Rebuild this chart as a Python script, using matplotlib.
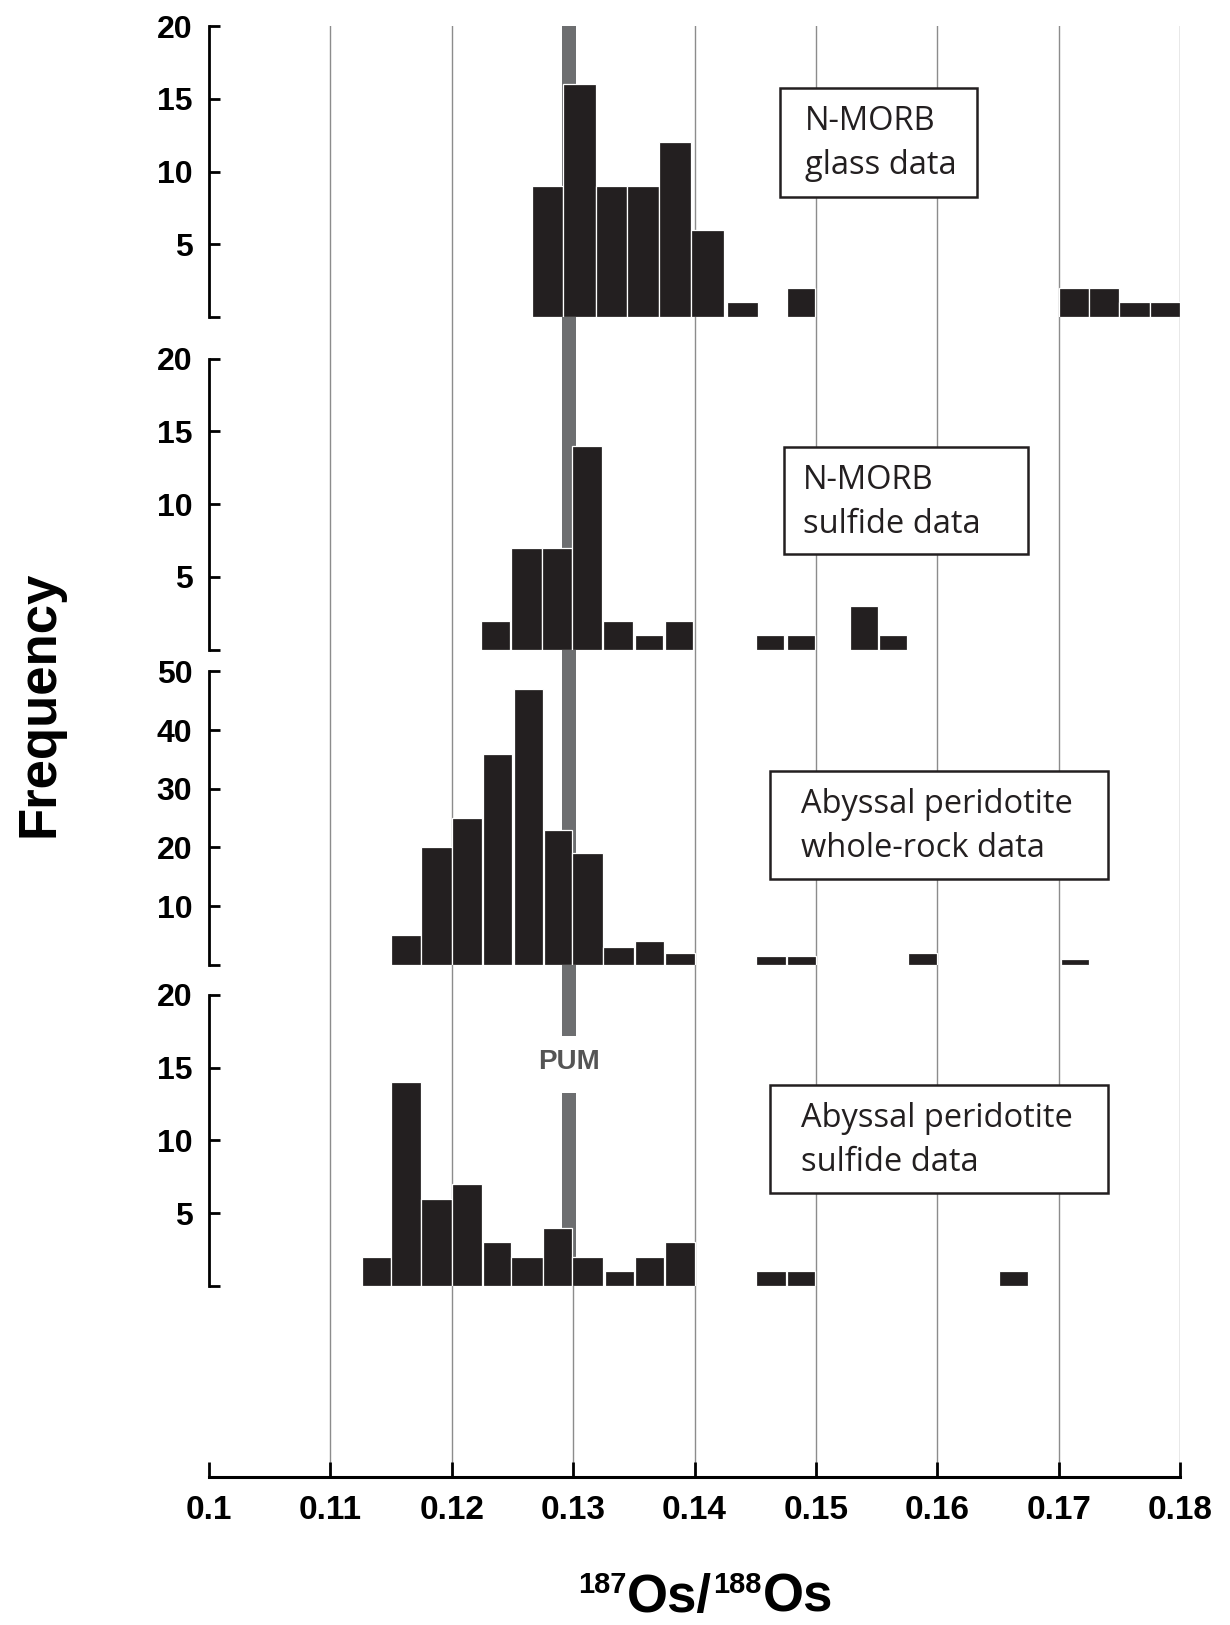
import numpy as np
import matplotlib
matplotlib.use('Agg')
import matplotlib.pyplot as plt
from matplotlib.patches import Rectangle

plt.rcParams['font.family'] = ['Liberation Sans', 'DejaVu Sans']

# ---- data (bin edges and counts) ----
glass_left = [0.1266, 0.1292, 0.1319, 0.1344, 0.1371, 0.1397, 0.1427, 0.1476, 0.1700, 0.1725, 0.1750, 0.1775]
glass_right = [0.1292, 0.1319, 0.1344, 0.1371, 0.1397, 0.1424, 0.1452, 0.1499, 0.1725, 0.1750, 0.1775, 0.1800]
glass_count = [9, 16, 9, 9, 12, 6, 1, 2, 2, 2, 1, 1]

morb_sulf_left = [0.1224, 0.1249, 0.1274, 0.1299, 0.1325, 0.1351, 0.1376, 0.1451, 0.1476, 0.1528, 0.1552]
morb_sulf_right = [0.1248, 0.1274, 0.1299, 0.1324, 0.1349, 0.1374, 0.1399, 0.1474, 0.1499, 0.1551, 0.1575]
morb_sulf_count = [2, 7, 7, 14, 2, 1, 2, 1, 1, 3, 1]

wr_left = [0.1150, 0.1175, 0.1200, 0.1226, 0.1251, 0.1276, 0.1299, 0.1325, 0.1351, 0.1376, 0.1451, 0.1476, 0.1576, 0.1702]
wr_right = [0.1175, 0.1200, 0.1225, 0.1250, 0.1275, 0.1299, 0.1325, 0.1350, 0.1375, 0.1400, 0.1475, 0.1500, 0.1600, 0.1725]
wr_count = [5, 20, 25, 36, 47, 23, 19, 3, 4, 2, 1.4, 1.4, 2, 1]

ap_sulf_left = [0.1126, 0.1150, 0.1175, 0.1200, 0.1226, 0.1249, 0.1275, 0.1299, 0.1326, 0.1351, 0.1376, 0.1451, 0.1476, 0.1651]
ap_sulf_right = [0.1150, 0.1175, 0.1200, 0.1225, 0.1249, 0.1275, 0.1299, 0.1325, 0.1350, 0.1375, 0.1400, 0.1475, 0.1499, 0.1675]
ap_sulf_count = [2, 14, 6, 7, 3, 2, 4, 2, 1, 2, 3, 1, 1, 1]

panel_labels = [['N-MORB', 'glass data'],
                ['N-MORB', 'sulfide data'],
                ['Abyssal peridotite', 'whole-rock data'],
                ['Abyssal peridotite', 'sulfide data']]
panel_ymax = [20, 20, 50, 20]
panel_yticks = [[0, 5, 10, 15, 20], [0, 5, 10, 15, 20], [0, 10, 20, 30, 40, 50], [0, 5, 10, 15, 20]]

x_ticks = [0.10, 0.11, 0.12, 0.13, 0.14, 0.15, 0.16, 0.17, 0.18]
x_ticklabels = ['0.1', '0.11', '0.12', '0.13', '0.14', '0.15', '0.16', '0.17', '0.18']
pum_lo, pum_hi = 0.1291, 0.1302

# ---- layout (pixels of a 1230x1625 canvas) ----
W, H = 1230, 1625
X0, X1 = 209, 1180
panel_top = [26, 358.5, 671.5, 994.7]
panel_bot = [317, 649.7, 964.7, 1285.9]
axis_y = 1476.6
boxes = [(780, 88, 977, 197), (784, 447, 1028, 554), (770, 771, 1108, 879), (770, 1085, 1108, 1193)]
text_x = [805, 803, 801, 801]
bar_color = '#231f20'
grid_color = '#8c8c8c'
pum_color = '#6d6e70'

fig = plt.figure(figsize=(12.3, 16.25), dpi=100)

def fy(py):
    return 1 - py / H

# background axis: grid lines, PUM band and the x axis
ax_bg = fig.add_axes([X0 / W, fy(axis_y), (X1 - X0) / W, (axis_y - panel_top[0]) / H])
ax_bg.set_xlim(0.1, 0.18)
ax_bg.set_ylim(0, 1)
ax_bg.patch.set_alpha(0)
for s in ['left', 'right', 'top']:
    ax_bg.spines[s].set_visible(False)
ax_bg.spines['bottom'].set_linewidth(2.2)
ax_bg.set_yticks([])
ax_bg.set_xticks(x_ticks)
ax_bg.set_xticklabels(x_ticklabels, fontsize=24, fontweight='bold')
ax_bg.tick_params(axis='x', direction='in', length=11, width=2, pad=13)

def frac(py):
    return (axis_y - py) / (axis_y - panel_top[0])

for v in x_ticks[1:]:
    if abs(v - 0.13) < 1e-9:
        ax_bg.axvline(v, ymin=0, ymax=frac(panel_bot[3]), color=grid_color, lw=1, zorder=1)
    else:
        ax_bg.axvline(v, color=grid_color, lw=1, zorder=1)

# PUM band with a gap for its label
ax_bg.axvspan(pum_lo, pum_hi, ymin=frac(1036), ymax=1, color=pum_color, lw=0, zorder=2)
ax_bg.axvspan(pum_lo, pum_hi, ymin=frac(panel_bot[3]), ymax=frac(1093), color=pum_color, lw=0, zorder=2)
ax_bg.text((pum_lo + pum_hi) / 2, frac(1062), 'PUM', ha='center', va='center',
           fontsize=20, fontweight='bold', color='#555555')

lefts = [glass_left, morb_sulf_left, wr_left, ap_sulf_left]
rights = [glass_right, morb_sulf_right, wr_right, ap_sulf_right]
counts = [glass_count, morb_sulf_count, wr_count, ap_sulf_count]

for i in range(4):
    ax = fig.add_axes([X0 / W, fy(panel_bot[i]), (X1 - X0) / W, (panel_bot[i] - panel_top[i]) / H])
    ax.patch.set_alpha(0)
    left = np.array(lefts[i])
    right = np.array(rights[i])
    ax.bar(left, counts[i], width=right - left, align='edge', color=bar_color,
           edgecolor='white', linewidth=0.9, zorder=3)
    ax.set_xlim(0.1, 0.18)
    ax.set_ylim(0, panel_ymax[i])
    for s in ['right', 'top', 'bottom']:
        ax.spines[s].set_visible(False)
    ax.spines['left'].set_linewidth(2)
    ax.set_xticks([])
    ax.set_yticks(panel_yticks[i])
    ax.set_yticklabels([''] + [str(t) for t in panel_yticks[i][1:]],
                       fontsize=23, fontweight='bold')
    ax.tick_params(axis='y', direction='in', length=8, width=2, pad=12)

    # label box
    bx0, by0, bx1, by1 = boxes[i]
    fig.add_artist(Rectangle((bx0 / W, fy(by1)), (bx1 - bx0) / W, (by1 - by0) / H,
                             transform=fig.transFigure, facecolor='white',
                             edgecolor='#231f20', lw=1.8, zorder=5))
    ty = by0 + (by1 - by0) * 0.31
    fig.text(text_x[i] / W, fy(ty), panel_labels[i][0], ha='left', va='center',
             fontsize=23.5, family='Open Sans', color='#231f20', zorder=6)
    fig.text(text_x[i] / W, fy(ty + 44), panel_labels[i][1], ha='left', va='center',
             fontsize=23.5, family='Open Sans', color='#231f20', zorder=6)

fig.text(39 / W, fy(704), 'Frequency', rotation=90, ha='center', va='center',
         fontsize=38, fontweight='bold')

# x label built from pieces so the superscripts keep their own size
renderer = fig.canvas.get_renderer()
pieces = [('187', 21, 1593), ('Os/', 38, 1612), ('188', 21, 1593), ('Os', 38, 1612)]
xpos = 578
for txt, size, base in pieces:
    t = fig.text(xpos / W, fy(base), txt, ha='left', va='baseline',
                 fontsize=size, fontweight='bold')
    bb = t.get_window_extent(renderer)
    xpos = bb.x1 + 1

fig.savefig('out.png', dpi=100)
